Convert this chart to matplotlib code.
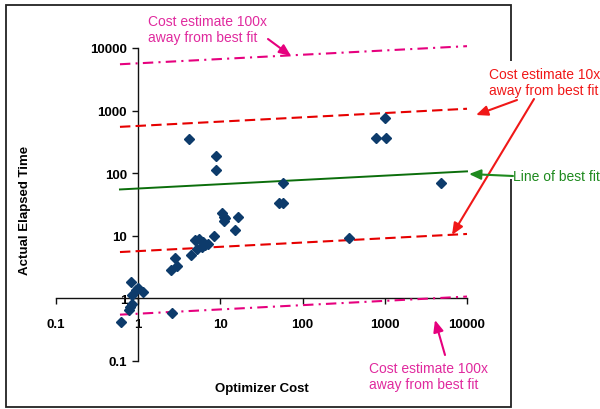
import matplotlib
matplotlib.use('Agg')
import matplotlib.pyplot as plt
from matplotlib.patches import Rectangle
from matplotlib.ticker import NullLocator

plt.rcParams['font.family'] = ['Liberation Sans', 'DejaVu Sans']

# ---- data ----
cost = [0.62, 0.78, 0.80, 0.84, 0.84, 0.82, 0.93, 1.0, 1.16, 2.6,
        2.5, 2.8, 3.0, 4.35, 4.9, 5.55, 6.2, 5.15, 5.95, 6.5,
        7.1, 8.3, 15, 10.6, 11.2, 11.4, 11.2, 16.4, 4.13, 8.8,
        8.9, 52, 57, 57, 366, 773, 1010, 1020, 4800]
elapsed = [0.42, 0.65, 0.72, 0.80, 1.15, 1.8, 1.38, 1.45, 1.28, 0.58,
           2.85, 4.35, 3.3, 4.9, 8.5, 8.9, 8.05, 6.05, 6.7, 7.1,
           7.4, 9.9, 12.2, 23.4, 20.2, 19, 17.2, 20.2, 356, 190,
           114, 34, 34, 69, 9.1, 360, 750, 369, 71]

fit_x = [0.6, 10000]
fit_y = [55, 107]
up10_y = [550, 1070]
dn10_y = [5.5, 10.7]
up100_y = [5500, 10700]
dn100_y = [0.55, 1.07]

tick_vals = [0.1, 1, 10, 100, 1000, 10000]
tick_labels = ['0.1', '1', '10', '100', '1000', '10000']

# ---- styling ----
W, H = 600, 410
def P(x, y):
    return (x / W, 1 - y / H)

c_pt = '#0D3B6B'
c_red = '#E60000'
c_mag = '#E6007E'
c_mag_txt = '#E02A9E'
c_grn = '#0B6E0B'
c_grn_txt = '#1E8A1E'

fig = plt.figure(figsize=(6, 4.1), dpi=100)
ax = fig.add_axes([56 / W, 1 - 362 / H, 411 / W, 313 / H])
ax.set_zorder(5)
ax.patch.set_visible(False)

ax.set_xscale('log')
ax.set_yscale('log')
ax.set_xlim(0.1, 10000)
ax.set_ylim(0.1, 10000)

ax.plot(fit_x, fit_y, '-', color=c_grn, lw=1.4, zorder=3, clip_on=False)
ax.plot(fit_x, up10_y, color=c_red, lw=1.5, ls=(0, (5, 2.5)), zorder=3, clip_on=False)
ax.plot(fit_x, dn10_y, color=c_red, lw=1.5, ls=(0, (5, 2.5)), zorder=3, clip_on=False)
ax.plot(fit_x, up100_y, color=c_mag, lw=1.5, ls=(0, (5, 2.5, 1, 2.5)), zorder=3, clip_on=False)
ax.plot(fit_x, dn100_y, color=c_mag, lw=1.5, ls=(0, (5, 2.5, 1, 2.5)), zorder=3, clip_on=False)

ax.plot(cost, elapsed, 'D', ms=4.8, color=c_pt, mec=c_pt, zorder=4, clip_on=False)

for s in ['top', 'right']:
    ax.spines[s].set_visible(False)
ax.spines['left'].set_position(('data', 1))
ax.spines['bottom'].set_position(('data', 1))
for s in ['left', 'bottom']:
    ax.spines[s].set_linewidth(1.0)
    ax.spines[s].set_color('#111111')

ax.set_xticks(tick_vals, tick_labels, fontweight='bold', fontsize=9.5)
ax.set_yticks(tick_vals, tick_labels, fontweight='bold', fontsize=9.5)
ax.xaxis.set_minor_locator(NullLocator())
ax.yaxis.set_minor_locator(NullLocator())
ax.tick_params(axis='both', direction='out', length=4, width=1, color='#111111')
ax.tick_params(axis='x', pad=10)
ax.tick_params(axis='y', pad=4)

# axis titles
fig.text(*P(262, 389), 'Optimizer Cost', ha='center', va='center',
         fontweight='bold', fontsize=9.5)
fig.text(*P(25, 210), 'Actual Elapsed Time', ha='center', va='center',
         rotation=90, fontweight='bold', fontsize=9.5)

# frame around the whole chart
fig.patches.append(Rectangle(P(6, 408), 505 / W, 402 / H, transform=fig.transFigure,
                             fill=False, lw=1.3, ec='#222222', zorder=1))
fig.patches.append(Rectangle(P(500, 180), 22 / W, 118 / H, transform=fig.transFigure,
                             fc='white', ec='none', zorder=2))

# annotation texts
tkw = dict(transform=fig.transFigure, fontsize=10, va='center', ha='left',
           linespacing=1.2)
ax.text(*P(148, 30), 'Cost estimate 100x\naway from best fit', color=c_mag_txt, **tkw)
ax.text(*P(489, 83), 'Cost estimate 10x\naway from best fit', color='#F01818', **tkw)
ax.text(*P(513, 177), 'Line of best fit', color=c_grn_txt, **tkw)
ax.text(*P(369, 377), 'Cost estimate 100x\naway from best fit', color=c_mag_txt, **tkw)

def arrow(tail, tip, color):
    ax.annotate('', xy=P(*tip), xytext=P(*tail), xycoords='figure fraction',
                textcoords='figure fraction', annotation_clip=False,
                arrowprops=dict(arrowstyle='-|>,head_length=0.7,head_width=0.3',
                                color=color, lw=1.5, shrinkA=0, shrinkB=0,
                                mutation_scale=10))

arrow((268, 40), (291, 57), c_mag)
arrow((517, 101), (476, 116), '#F01818')
arrow((534, 100), (452, 236), '#F01818')
arrow((513, 177), (469, 175), c_grn_txt)
arrow((445, 356), (435, 321), c_mag)

fig.savefig('out.png', dpi=100)
